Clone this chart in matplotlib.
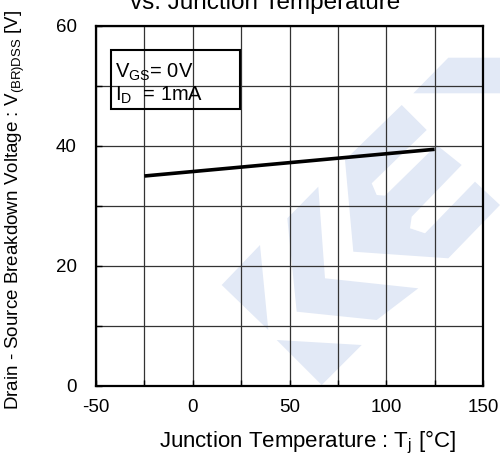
import matplotlib.pyplot as plt
from matplotlib.patches import Polygon

plt.rcParams['font.family'] = ['Liberation Sans', 'DejaVu Sans']
plt.rcParams['mathtext.fontset'] = 'custom'
plt.rcParams['mathtext.rm'] = 'Liberation Sans'
plt.rcParams['mathtext.it'] = 'Liberation Sans'
plt.rcParams['axes.unicode_minus'] = False

# data
temp = [-25, 125]
bvdss = [35.0, 39.45]

x_ticks = [-50, 0, 50, 100, 150]
y_ticks = [0, 20, 40, 60]

W, H = 500, 457
fig = plt.figure(figsize=(W / 100, H / 100), dpi=100)
ax = fig.add_axes([96 / W, 1 - 386 / H, 387 / W, 360 / H])
ax.patch.set_alpha(0)

# background watermark (pixel outlines)
marks = [
    [(345, 160), (401.7, 105), (426.7, 130), (371.7, 183.3), (376.7, 195),
     (385, 195.7), (436.7, 145), (461.7, 165), (411.7, 216.7), (410, 228.3),
     (425, 233.3), (475, 181.7), (500, 205), (448.3, 258.3), (353.3, 251.7)],
    [(287.3, 218.3), (318.3, 186.7), (325, 278.3), (418.3, 288.3),
     (376.7, 320), (296.7, 311.7)],
    [(221.7, 285), (260, 245), (268.3, 330)],
    [(276.7, 340), (361.7, 345), (321.7, 385)],
    [(413.3, 93.3), (448.3, 57.7), (500, 57.7), (500, 93.3)],
]
for pts in marks:
    fig.patches.append(Polygon([(px / W, 1 - py / H) for px, py in pts],
                               closed=True, transform=fig.transFigure,
                               facecolor='#e2e9f6', edgecolor='none', zorder=-1))

ax.plot(temp, bvdss, color='black', lw=2.6, solid_capstyle='butt', zorder=3)

ax.set_xlim(-50, 150)
ax.set_ylim(0, 60)
ax.set_xticks(x_ticks)
ax.set_xticks(range(-25, 150, 50), minor=True)
ax.set_yticks(y_ticks)
ax.set_yticks([10, 30, 50], minor=True)
ax.grid(True, which='both', color='#333333', lw=0.9)
ax.tick_params(which='both', direction='in', length=4, width=1, labelsize=13.5,
               colors='black')
ax.tick_params(axis='x', pad=9)
ax.tick_params(axis='y', pad=14)
for s in ax.spines.values():
    s.set_linewidth(1.6)

ax.text(-40, 52.3, r'V$_{\mathrm{GS}}$= 0V', fontsize=14.5, va='center')
ax.text(-40, 48.4, r'I$_{\mathrm{D}}$  = 1mA', fontsize=14.5, va='center')
fig.patches.append(plt.Rectangle((111 / W, 1 - 109 / H), 129 / W, 59 / H,
                                 transform=fig.transFigure, fill=False,
                                 edgecolor='black', lw=1.5, zorder=5))

ax.set_xlabel(r'Junction Temperature : T$_{\mathrm{j}}$ [°C]', fontsize=16,
              va='center')
ax.xaxis.set_label_coords(0.545, -0.158)
ax.set_ylabel(r'Drain - Source Breakdown Voltage : V$_{\mathrm{(BR)DSS}}$ [V]',
              fontsize=13.5, va='center')
ax.yaxis.set_label_coords(-0.209, 0.49)

fig.text(265 / W, 1 - 9 / H, 'vs. Junction Temperature', fontsize=17.5,
         ha='center', va='baseline')

fig.savefig('out.png', dpi=100)
